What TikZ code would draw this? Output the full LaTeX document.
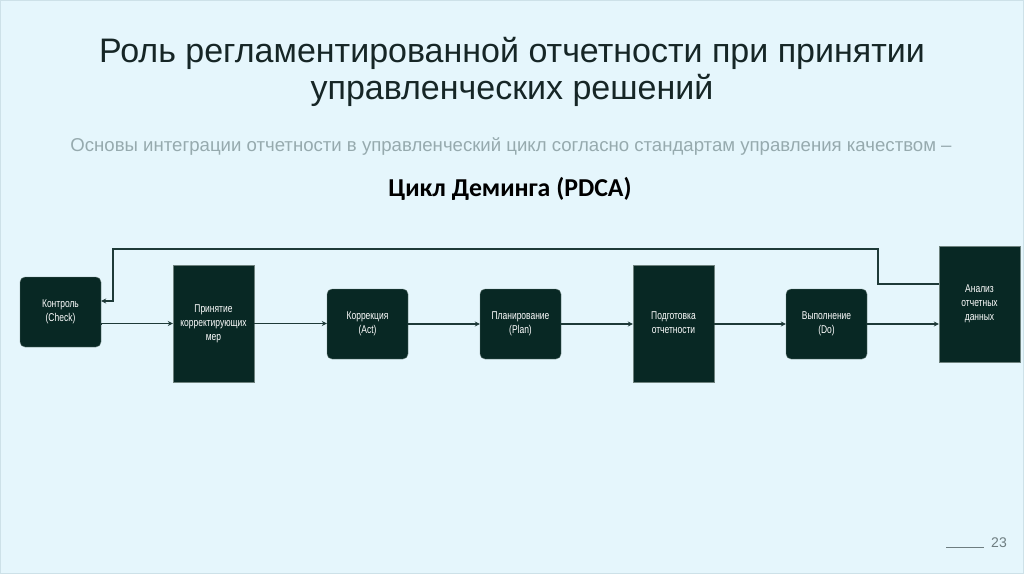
\documentclass[tikz,border=0pt]{standalone}
\usepackage{fontspec}
\setmainfont{Liberation Sans}
\newfontfamily\carl{Carlito}
\usetikzlibrary{arrows.meta}
\definecolor{bg}{RGB}{229,246,252}
\definecolor{boxc}{RGB}{8,40,36}
\definecolor{boxe}{RGB}{110,130,126}
\definecolor{linec}{RGB}{30,58,56}
\definecolor{titlec}{RGB}{22,38,38}
\definecolor{subc}{RGB}{150,170,174}
\definecolor{numc}{RGB}{110,125,128}
\newcommand{\bt}[1]{\scalebox{0.75}[1]{\begin{tabular}{@{}c@{}}#1\end{tabular}}}
\tikzset{
  rbox/.style={draw=boxe, line width=0.4pt, fill=boxc, rounded corners=5pt, minimum width=81pt, minimum height=70pt, inner sep=1pt, text=white, align=center, font=\fontsize{11.3}{14}\selectfont},
  sbox/.style={draw=boxe, line width=0.4pt, fill=boxc, minimum width=81pt, minimum height=117pt, inner sep=1pt, text=white, align=center, font=\fontsize{11.3}{14}\selectfont},
  conn/.style={draw=linec, line width=1.7pt, -{Stealth[length=5pt,width=5pt]}},
}
\begin{document}
\begin{tikzpicture}[x=1pt,y=-1pt]
\fill[bg] (0,0) rectangle (1024,574);
\useasboundingbox (0,0) rectangle (1024,574);
\draw[draw={rgb,255:red,205;green,225;blue,232}, line width=1pt] (0.5,0.5) rectangle (1023.5,573.5);
% title
\node[text=titlec, align=center, font=\fontsize{34}{36.5}\selectfont] (title) at (512,72) {Роль регламентированной отчетности при принятии\\управленческих решений};
\node[text=subc, font=\fontsize{18.6}{20}\selectfont] (sub) at (511,147) {Основы интеграции отчетности в управленческий цикл согласно стандартам управления качеством –};
\node[text=black, font=\carl\bfseries\fontsize{25.8}{28}\selectfont] (pdca) at (510,189) {Цикл Деминга (PDCA)};
% boxes
\node[rbox] (check) at (60.5,312) {\bt{Контроль\\(Check)}};
\node[sbox] (prin) at (213.5,323.5) {\bt{Принятие\\корректирующих\\мер}};
\node[rbox] (act) at (367.5,324) {\bt{Коррекция\\(Act)}};
\node[rbox] (plan) at (520.5,324) {\bt{Планирование\\(Plan)}};
\node[sbox] (pod) at (673.5,323.5) {\bt{Подготовка\\отчетности}};
\node[rbox] (do) at (826.5,324) {\bt{Выполнение\\(Do)}};
\node[sbox, minimum height=116pt] (an) at (979.5,304) {\bt{Анализ\\отчетных\\данных}};
% connectors
\draw[conn] ([yshift=-12pt]check.east) -- (check.east |- prin.west) -- (prin.west);
\draw[conn] (prin.east) -- (prin.east -| act.west);
\draw[conn] (act.east) -- (plan.west);
\draw[conn] (plan.east) -- (plan.east -| pod.west);
\draw[conn] (pod.east |- do.east) -- (do.west);
\draw[conn] (do.east) -- (do.east -| an.west);
\coordinate (f1) at (878,249);
\coordinate (f2) at (113,249);
\draw[conn] ([yshift=20pt]an.west) -| (f1) -- (f2) |- ([yshift=11pt]check.east);
% page number
\node[text=numc, font=\fontsize{14}{16}\selectfont] (num) at (999,543) {23};
\draw[numc, line width=0.6pt] (946,547) -- (984,547);
\end{tikzpicture}
\end{document}
